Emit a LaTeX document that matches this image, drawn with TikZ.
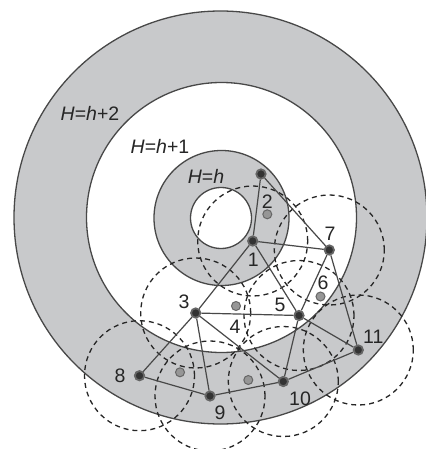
\documentclass[tikz,border=0pt]{standalone}
\usepackage{fontspec}
\setmainfont{Liberation Sans}
\definecolor{ringgray}{RGB}{200,201,203}
\definecolor{linegray}{RGB}{72,72,72}
\definecolor{dotgray}{RGB}{150,150,150}
\begin{document}
\begin{tikzpicture}[x=1pt, y=-1pt,
    font=\fontsize{19.5}{20}\selectfont,
    ring/.style={draw=linegray, line width=1.3pt},
    commrange/.style={draw=black!85, line width=1.3pt, dash pattern=on 5pt off 4pt},
    link/.style={draw=linegray, line width=1.2pt},
    anchornode/.style={circle, fill=black!80, draw=black!60, line width=1.2pt,
      inner sep=0pt, minimum size=10pt},
    unknode/.style={circle, fill=dotgray, draw=black!60, line width=1pt,
      inner sep=0pt, minimum size=9pt},
    lbl/.style={text=black!85, inner sep=0pt}]

  \useasboundingbox (0,0) rectangle (425,449);

  % ---- hop rings ----
  \draw[ring, fill=ringgray] (220.5,217.5) circle[radius=206.5pt];
  \draw[ring, fill=white] (221.5,217.5) circle[radius=135pt];
  \draw[ring, fill=ringgray] (221.5,218) circle[radius=67.5pt];
  \draw[ring, fill=white] (221,218) circle[radius=30.5pt];

  \node[lbl] (h2) at (90,113.5) {\textit{H}=\textit{h}+2};
  \node[lbl] (h1) at (160,146.5) {\textit{H}=\textit{h}+1};
  \node[lbl] (h0) at (206,176) {\textit{H}=\textit{h}};

  % ---- sensor nodes ----
  \node[anchornode] (src) at (261,174) {};
  \node[anchornode] (n1) at (252.7,241) {};
  \node[anchornode] (n7) at (329.3,250) {};
  \node[anchornode] (n3) at (195.7,313) {};
  \node[anchornode] (n5) at (299,315.5) {};
  \node[anchornode] (n11) at (358.3,350) {};
  \node[anchornode] (n8) at (139.5,375.7) {};
  \node[anchornode] (n9) at (210,396) {};
  \node[anchornode] (n10) at (283.3,381.5) {};

  % ---- communication ranges ----
  \foreach \n in {n1,n7,n3,n5,n11,n8,n9,n10}
    \draw[commrange] (\n.center) circle[radius=55pt];

  % ---- links ----
  \draw[link] (src) -- (n1);
  \draw[link] (src) -- (n7);
  \draw[link] (n1) -- (n7);
  \draw[link] (n1) -- (n3);
  \draw[link] (n1) -- (n5);
  \draw[link] (n7) -- (n5);
  \draw[link] (n7) -- (n11);
  \draw[link] (n3) -- (n5);
  \draw[link] (n3) -- (n8);
  \draw[link] (n3) -- (n9);
  \draw[link] (n3) -- (n10);
  \draw[link] (n5) -- (n10);
  \draw[link] (n5) -- (n11);
  \draw[link] (n8) -- (n9);
  \draw[link] (n9) -- (n10);
  \draw[link] (n10) -- (n11);

  % redraw nodes on top of the links
  \foreach \n in {src,n1,n7,n3,n5,n11,n8,n9,n10}
    \draw[black!60, fill=black!80, line width=1.2pt] (\n.center) circle[radius=4.4pt];

  % ---- unknown positions ----
  \node[unknode] (u2) at (267.3,214.3) {};
  \node[unknode] (u4) at (236,306) {};
  \node[unknode] (u6) at (320.5,296.5) {};
  \node[unknode] (ua) at (180,372.3) {};
  \node[unknode] (ub) at (248.3,380) {};

  % ---- labels ----
  \node[lbl] (l1) at (253.3,259.5) {1};
  \node[lbl] (l2) at (267.3,201.5) {2};
  \node[lbl] (l3) at (184,301.7) {3};
  \node[lbl] (l4) at (235,326.7) {4};
  \node[lbl] (l5) at (280,305) {5};
  \node[lbl] (l6) at (323,282.3) {6};
  \node[lbl] (l7) at (330,233.3) {7};
  \node[lbl] (l8) at (120,375.7) {8};
  \node[lbl] (l9) at (220,412.3) {9};
  \node[lbl] (l10) at (300,398.3) {10};
  \node[lbl] (l11) at (373.3,336.7) {11};

\end{tikzpicture}
\end{document}
